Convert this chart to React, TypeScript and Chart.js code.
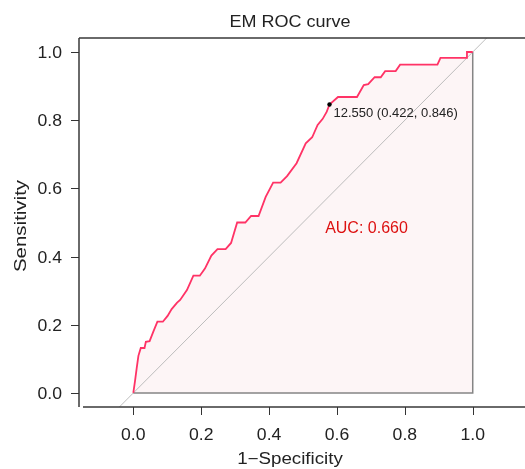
import { useEffect, useRef } from 'react';
import { Chart, registerables } from 'chart.js';

Chart.register(...registerables);

// ROC curve: x = 1 - specificity, y = sensitivity
const fpr = [0, 0.005, 0.010, 0.015, 0.022, 0.033, 0.037, 0.048, 0.059, 0.071, 0.087, 0.101, 0.113, 0.129, 0.138, 0.158, 0.177, 0.196, 0.211, 0.230, 0.248, 0.272, 0.288, 0.306, 0.330, 0.347, 0.369, 0.390, 0.412, 0.434, 0.453, 0.481, 0.508, 0.527, 0.543, 0.558, 0.570, 0.578, 0.603, 0.659, 0.679, 0.692, 0.711, 0.729, 0.742, 0.773, 0.786, 0.896, 0.905, 0.982, 0.983, 1.0];
const tpr = [0, 0.035, 0.073, 0.109, 0.132, 0.132, 0.150, 0.152, 0.180, 0.209, 0.209, 0.226, 0.246, 0.265, 0.273, 0.302, 0.344, 0.344, 0.365, 0.403, 0.422, 0.422, 0.440, 0.500, 0.500, 0.519, 0.519, 0.575, 0.617, 0.617, 0.636, 0.674, 0.732, 0.750, 0.786, 0.804, 0.825, 0.846, 0.868, 0.868, 0.903, 0.906, 0.926, 0.926, 0.944, 0.944, 0.963, 0.963, 0.983, 0.983, 1.0, 1.0];

const xTicks = [0, 0.2, 0.4, 0.6, 0.8, 1.0];
const yTicks = [0, 0.2, 0.4, 0.6, 0.8, 1.0];
const xTickLabels = ['0.0', '0.2', '0.4', '0.6', '0.8', '1.0'];
const yTickLabels = ['0.0', '0.2', '0.4', '0.6', '0.8', '1.0'];

const thrValue = 12.55;
const thrSpec = 0.422;
const thrSens = 0.846;
const aucValue = 0.66;
const aucPos = [0.687, 0.468];
const diagEnds = [-0.3, 1.3];

const titleText = 'EM ROC curve';
const xTitle = '1\u2212Specificity';
const yTitle = 'Sensitivity';

const FONT = '"Liberation Sans", Arial, Helvetica, sans-serif';

function drawText(ctx: CanvasRenderingContext2D, text: string, x: number, y: number, size: number, color: string, align: CanvasTextAlign, sx: number, rot = 0) {
  ctx.save();
  ctx.font = `${size}px ${FONT}`;
  ctx.fillStyle = color;
  ctx.textAlign = align;
  ctx.textBaseline = 'alphabetic';
  ctx.translate(x, y);
  if (rot) ctx.rotate(rot);
  ctx.scale(sx, 1);
  ctx.fillText(text, 0, 0);
  ctx.restore();
}

const decorPlugin = {
  id: 'decor',
  afterDatasetsDraw(chart: any) {
    const ctx: CanvasRenderingContext2D = chart.ctx;
    const { left, right, top, bottom } = chart.chartArea;
    const xs = chart.scales.x;
    const ys = chart.scales.y;
    ctx.save();
    // frame lines
    ctx.strokeStyle = '#3a3a3a';
    ctx.lineWidth = 1.5;
    ctx.beginPath();
    ctx.moveTo(left, top);
    ctx.lineTo(right, top);
    ctx.moveTo(left, top);
    ctx.lineTo(left, bottom);
    ctx.moveTo(left + 4, bottom);
    ctx.lineTo(right, bottom);
    ctx.stroke();
    // tick marks
    ctx.lineWidth = 1;
    ctx.strokeStyle = '#333';
    ctx.beginPath();
    yTicks.forEach((v) => {
      const py = Math.round(ys.getPixelForValue(v)) + 0.5;
      ctx.moveTo(left - 8, py);
      ctx.lineTo(left, py);
    });
    xTicks.forEach((v) => {
      const px = Math.round(xs.getPixelForValue(v)) + 0.5;
      ctx.moveTo(px, bottom);
      ctx.lineTo(px, bottom + 8);
    });
    ctx.stroke();
    ctx.restore();

    // tick labels
    yTicks.forEach((v, i) => {
      drawText(ctx, yTickLabels[i], left - 17, ys.getPixelForValue(v) + 6, 16, '#222', 'right', 1.1);
    });
    xTicks.forEach((v, i) => {
      drawText(ctx, xTickLabels[i], xs.getPixelForValue(v), bottom + 32.5, 16, '#222', 'center', 1.1);
    });
    // titles
    drawText(ctx, titleText, 290, 27, 16, '#222', 'center', 1.125);
    drawText(ctx, xTitle, 290, 463.5, 16, '#222', 'center', 1.17);
    drawText(ctx, yTitle, 25.5, 226, 16, '#222', 'center', 1.28, -Math.PI / 2);

    // threshold label
    const tx = xs.getPixelForValue(1 - thrSpec);
    const ty = ys.getPixelForValue(thrSens);
    const lbl = `${thrValue.toFixed(3)} (${thrSpec.toFixed(3)}, ${thrSens.toFixed(3)})`;
    drawText(ctx, lbl, tx + 4, ty + 12.5, 13, '#222', 'left', 1.0);
    // AUC label
    drawText(ctx, `AUC: ${aucValue.toFixed(3)}`, xs.getPixelForValue(aucPos[0]), ys.getPixelForValue(aucPos[1]), 16, '#dd1111', 'center', 1.0);
  },
};

export default function App() {
  const ref = useRef<HTMLCanvasElement | null>(null);
  useEffect(() => {
    if (!ref.current) return;
    const curve = fpr.map((x, i) => ({ x, y: tpr[i] }));
    const chart = new Chart(ref.current, {
      type: 'scatter',
      data: {
        datasets: [
          {
            label: 'threshold',
            data: [{ x: 1 - thrSpec, y: thrSens }],
            showLine: false,
            pointRadius: 2.2,
            pointBackgroundColor: '#000',
            pointBorderWidth: 0,
            order: -1,
          },
          {
            label: 'ROC',
            data: curve,
            showLine: true,
            borderColor: '#ff3366',
            borderWidth: 1.8,
            pointRadius: 0,
            fill: false,
            tension: 0,
            order: 0,
          },
          {
            label: 'polygon border',
            data: [{ x: 0, y: 0 }, { x: 1, y: 0 }, { x: 1, y: 1 }],
            showLine: true,
            borderColor: '#858585',
            borderWidth: 1.5,
            pointRadius: 0,
            order: 1,
          },
          {
            label: 'diagonal',
            data: diagEnds.map((v) => ({ x: v, y: v })),
            showLine: true,
            borderColor: '#bdbdbd',
            borderWidth: 1,
            pointRadius: 0,
            order: 2,
          },
          {
            label: 'AUC area',
            data: curve,
            showLine: true,
            borderWidth: 0,
            borderColor: 'rgba(0,0,0,0)',
            backgroundColor: '#fdf5f6',
            fill: { value: 0 },
            pointRadius: 0,
            order: 3,
          },
        ],
      },
      options: {
        responsive: false,
        animation: false,
        events: [],
        layout: { autoPadding: false, padding: { left: 79, top: 38, right: 0, bottom: 62 } },
        scales: {
          x: { type: 'linear', min: -0.16, max: 1.154, display: false },
          y: { type: 'linear', min: -0.0411, max: 1.0411, display: false },
        },
        plugins: { legend: { display: false }, tooltip: { enabled: false } },
      } as any,
      plugins: [decorPlugin],
    });
    return () => chart.destroy();
  }, []);
  return (
    <div style={{ position: 'fixed', left: 0, top: 0, width: 525, height: 469, background: '#fff' }}>
      <canvas ref={ref} width={525} height={469} style={{ display: 'block', width: 525, height: 469 }} />
    </div>
  );
}
